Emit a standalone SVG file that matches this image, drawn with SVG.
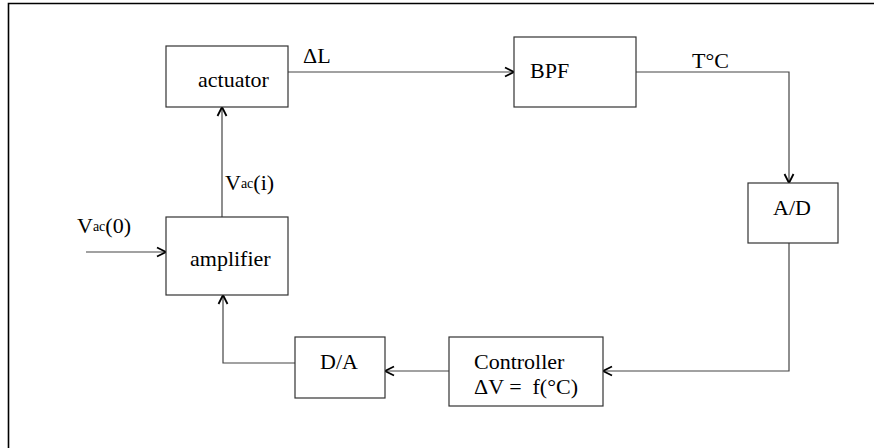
<svg xmlns="http://www.w3.org/2000/svg" width="874" height="448" viewBox="0 0 874 448">
<style>
.box{fill:#fff;stroke:#333;stroke-width:1.2}
.ln{fill:none;stroke:#444;stroke-width:1.2}
</style>
<defs>
<marker id="arr" markerUnits="userSpaceOnUse" markerWidth="14" markerHeight="14" refX="10" refY="6" orient="auto" viewBox="0 0 14 12">
<path d="M1,1.5 L10,6 L1,10.5" fill="none" stroke="#000" stroke-width="1.8"/>
</marker>
</defs>
<rect width="874" height="448" fill="#fff"/>
<path d="M8.5,448 V3.5 H874" fill="none" stroke="#000" stroke-width="1.6"/>
<g id="connectors">
<path class="ln" d="M288,72 H514" marker-end="url(#arr)"/>
<path class="ln" d="M636,72 H789 V183" marker-end="url(#arr)"/>
<path class="ln" d="M789,243 V371 H603" marker-end="url(#arr)"/>
<path class="ln" d="M449,371 H385" marker-end="url(#arr)"/>
<path class="ln" d="M295,363 H223 V295" marker-end="url(#arr)"/>
<path class="ln" d="M222,217 V107" marker-end="url(#arr)"/>
<path class="ln" d="M86,252 H166" marker-end="url(#arr)"/>
<text x="303" y="63" font-family="Liberation Serif" font-size="22">ΔL</text>
<text x="692" y="68" font-family="Liberation Serif" font-size="22">T°C</text>
<text x="225" y="190" font-family="Liberation Serif" font-size="22">V<tspan font-size="14" dy="-2">ac</tspan><tspan dy="2">(i)</tspan></text>
<text x="77" y="233" font-family="Liberation Serif" font-size="22">V<tspan font-size="14" dy="-2">ac</tspan><tspan dy="2">(0)</tspan></text>
</g>
<g id="actuator">
<rect class="box" x="166" y="46" width="122" height="61"/>
<text x="198" y="87" font-family="Liberation Serif" font-size="22">actuator</text>
</g>
<g id="bpf">
<rect class="box" x="514" y="37" width="122" height="70"/>
<text x="530" y="78" font-family="Liberation Serif" font-size="22">BPF</text>
</g>
<g id="ad">
<rect class="box" x="748" y="183" width="90" height="60"/>
<text x="773" y="215" font-family="Liberation Serif" font-size="22">A/D</text>
</g>
<g id="amplifier">
<rect class="box" x="166" y="217" width="122" height="78"/>
<text x="190" y="266" font-family="Liberation Serif" font-size="22">amplifier</text>
</g>
<g id="da">
<rect class="box" x="295" y="337" width="90" height="61"/>
<text x="320" y="369" font-family="Liberation Serif" font-size="22">D/A</text>
</g>
<g id="controller">
<rect class="box" x="449" y="337" width="154" height="69"/>
<text x="474" y="369" font-family="Liberation Serif" font-size="22">Controller</text>
<text x="474" y="394" font-family="Liberation Serif" font-size="22" xml:space="preserve">ΔV =  f(°C)</text>
</g>
</svg>
